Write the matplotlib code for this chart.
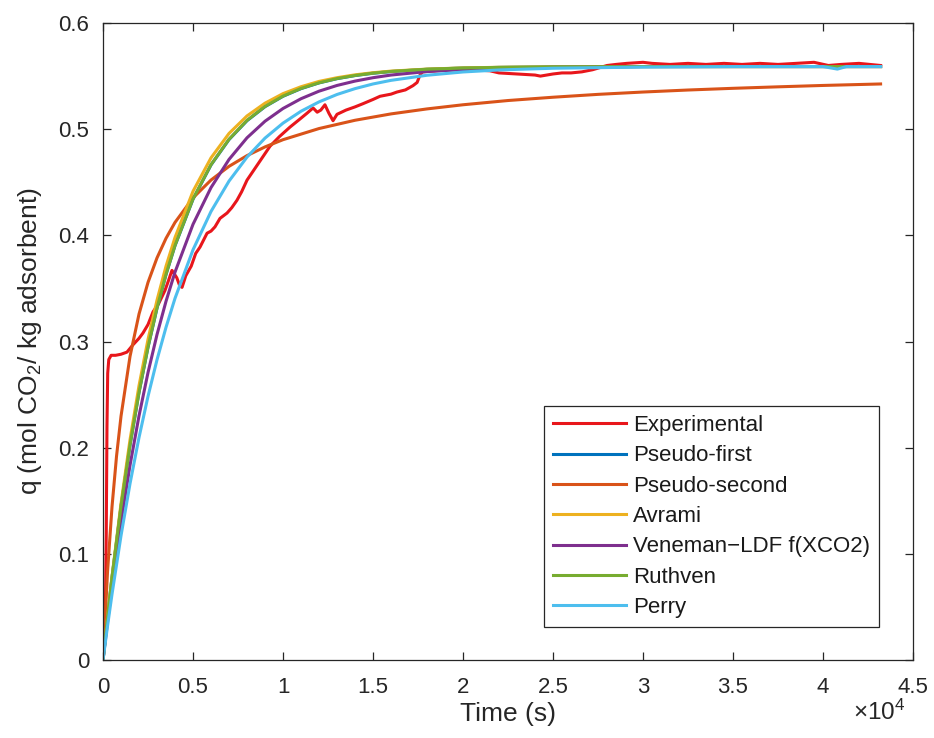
import matplotlib
matplotlib.use("Agg")
import matplotlib.pyplot as plt

plt.rcParams['font.family'] = ['Liberation Sans', 'DejaVu Sans']
plt.rcParams['mathtext.default'] = 'regular'

# ---------------- data ----------------
t_exp = [0, 120, 180, 220, 260, 320, 450, 700, 1000, 1330, 1670, 2000, 2220, 2500,
         2780, 3100, 3440, 3650, 3830, 3950, 4100, 4250, 4390, 4600, 4900, 5150,
         5390, 5600, 5780, 6000, 6220, 6500, 6890, 7150, 7440, 7700, 8000, 8400,
         8800, 9280, 9800, 10390, 10900, 11330, 11670, 11900, 12100, 12330, 12550,
         12780, 13000, 13500, 14000, 14440, 15000, 15390, 16000, 16330, 16800,
         17220, 17450, 17610, 17750, 18500, 19500, 20500, 21500, 22000, 23000,
         24000, 24300, 25000, 25500, 26000, 26600, 27200, 28000, 28500, 29100,
         30000, 30500, 31500, 32500, 33500, 34500, 35500, 36500, 37500, 38500,
         39500, 40300, 41000, 42000, 43200]
q_exp = [0, 0.030, 0.120, 0.220, 0.270, 0.283, 0.287, 0.287, 0.288, 0.290, 0.297,
         0.303, 0.308, 0.316, 0.328, 0.336, 0.348, 0.358, 0.367, 0.364, 0.360,
         0.353, 0.351, 0.362, 0.371, 0.383, 0.389, 0.396, 0.402, 0.404, 0.408,
         0.416, 0.421, 0.426, 0.433, 0.441, 0.452, 0.462, 0.472, 0.484, 0.493,
         0.502, 0.509, 0.515, 0.520, 0.516, 0.518, 0.523, 0.515, 0.508, 0.514,
         0.518, 0.521, 0.524, 0.528, 0.531, 0.533, 0.535, 0.537, 0.541, 0.544,
         0.551, 0.554, 0.555, 0.556, 0.556, 0.555, 0.553, 0.552, 0.551, 0.550,
         0.552, 0.553, 0.553, 0.554, 0.556, 0.560, 0.561, 0.562, 0.563, 0.562,
         0.561, 0.562, 0.561, 0.562, 0.561, 0.562, 0.561, 0.562, 0.563, 0.560,
         0.561, 0.562, 0.560]

t_mod = [0, 250, 500, 1000, 1500, 2000, 2500, 3000, 3500, 4000, 5000, 6000, 7000,
         8000, 9000, 10000, 11000, 12000, 13000, 14000, 15000, 16000, 18000,
         20000, 22000, 25000, 30000, 35000, 40000, 43200]

q_pfo = [0, 0.0403, 0.0778, 0.1447, 0.2024, 0.2520, 0.2946, 0.3314, 0.3631,
         0.3903, 0.4340, 0.4663, 0.4902, 0.5080, 0.5212, 0.5310, 0.5382, 0.5436,
         0.5476, 0.5505, 0.5527, 0.5543, 0.5564, 0.5576, 0.5582, 0.5587, 0.5590,
         0.5590, 0.5590, 0.5590]
q_avrami = [0, 0.0400, 0.0785, 0.1475, 0.2075, 0.2585, 0.3020, 0.3390, 0.3710,
            0.3980, 0.4415, 0.4730, 0.4960, 0.5125, 0.5245, 0.5335, 0.5400,
            0.5450, 0.5485, 0.5512, 0.5532, 0.5547, 0.5566, 0.5577, 0.5583,
            0.5587, 0.5590, 0.5590, 0.5590, 0.5590]
q_veneman = [0, 0.0358, 0.0694, 0.1301, 0.1834, 0.2300, 0.2708, 0.3066, 0.3379,
             0.3654, 0.4104, 0.4450, 0.4715, 0.4919, 0.5075, 0.5195, 0.5287,
             0.5358, 0.5412, 0.5453, 0.5485, 0.5510, 0.5543, 0.5562, 0.5574,
             0.5583, 0.5590, 0.5590, 0.5590, 0.5590]
q_ruthven = [0, 0.0404, 0.0779, 0.1449, 0.2026, 0.2522, 0.2949, 0.3317, 0.3634,
             0.3906, 0.4343, 0.4666, 0.4905, 0.5083, 0.5214, 0.5312, 0.5384,
             0.5437, 0.5477, 0.5506, 0.5528, 0.5544, 0.5565, 0.5576, 0.5582,
             0.5587, 0.5590, 0.5590, 0.5590, 0.5590]

t_perry = [0, 250, 500, 1000, 1500, 2000, 2500, 3000, 3500, 4000, 5000, 6000, 7000,
           8000, 9000, 10000, 11000, 12000, 13000, 14000, 15000, 16000, 18000,
           20000, 22000, 25000, 30000, 35000, 40000, 40800, 41300, 43200]
q_perry = [0, 0.0319, 0.0620, 0.1171, 0.1661, 0.2096, 0.2484, 0.2828, 0.3134,
           0.3407, 0.3864, 0.4225, 0.4511, 0.4737, 0.4916, 0.5057, 0.5169, 0.5257,
           0.5327, 0.5382, 0.5426, 0.5460, 0.5508, 0.5539, 0.5558, 0.5574, 0.5585,
           0.5590, 0.5590, 0.5566, 0.5590, 0.5590]

t_pso = [0, 250, 500, 750, 1000, 1500, 2000, 2500, 3000, 3500, 4000, 5000, 6000,
         7000, 8000, 9000, 10000, 12000, 14000, 16000, 18000, 20000, 22500, 25000,
         27500, 30000, 32500, 35000, 37500, 40000, 43200]
q_pso = [0, 0.0829, 0.1444, 0.1919, 0.2297, 0.2860, 0.3259, 0.3557, 0.3788, 0.3972,
         0.4122, 0.4353, 0.4521, 0.4650, 0.4751, 0.4833, 0.4901, 0.5006, 0.5084,
         0.5144, 0.5191, 0.5230, 0.5270, 0.5301, 0.5328, 0.5350, 0.5369, 0.5385,
         0.5399, 0.5412, 0.5426]

x_ticks = [0, 5000, 10000, 15000, 20000, 25000, 30000, 35000, 40000, 45000]
x_tick_labels = ['0', '0.5', '1', '1.5', '2', '2.5', '3', '3.5', '4', '4.5']
y_ticks = [0, 0.1, 0.2, 0.3, 0.4, 0.5, 0.6]
y_tick_labels = ['0', '0.1', '0.2', '0.3', '0.4', '0.5', '0.6']

# ---------------- figure ----------------
fig = plt.figure(figsize=(9.34, 7.38), dpi=100)
ax = fig.add_axes([0.1103, 0.1057, 0.8672, 0.8631])

lw = 2.2
ax.plot(t_exp, q_exp, color='#E8161B', lw=lw, label='Experimental')
ax.plot(t_mod, q_pfo, color='#0072BD', lw=lw, label='Pseudo-first')
ax.plot(t_pso, q_pso, color='#D95319', lw=lw, label='Pseudo-second')
ax.plot(t_mod, q_avrami, color='#EDB120', lw=lw, label='Avrami')
ax.plot(t_mod, q_veneman, color='#7E2F8E', lw=lw, label='Veneman\u2212LDF f(XCO2)')
ax.plot(t_mod, q_ruthven, color='#77AC30', lw=lw, label='Ruthven')
ax.plot(t_perry, q_perry, color='#4DBEEE', lw=lw, label='Perry')

ax.set_xlim(0, 45000)
ax.set_ylim(0, 0.6)
ax.set_xticks(x_ticks)
ax.set_xticklabels(x_tick_labels)
ax.set_yticks(y_ticks)
ax.set_yticklabels(y_tick_labels)

dark = '#262626'
for s in ax.spines.values():
    s.set_color(dark)
    s.set_linewidth(0.9)
ax.tick_params(direction='in', length=6, width=0.9, colors=dark,
               labelsize=16, top=True, right=True)
ax.tick_params(axis='y', pad=10)
ax.tick_params(axis='x', pad=12)

ax.set_xlabel('Time (s)', fontsize=19, color=dark, labelpad=3)
ax.set_ylabel('q (mol CO$_{2}$/ kg adsorbent)', fontsize=19, color=dark, labelpad=10)

ax.text(0.99, -0.062, r'$\times10^{4}$', transform=ax.transAxes, ha='right', va='top',
        fontsize=17.5, color=dark)

leg = ax.legend(loc='lower right', bbox_to_anchor=(0.958, 0.052), fontsize=16,
                frameon=True, fancybox=False, framealpha=1, edgecolor=dark,
                handlelength=3.3, handletextpad=0.3, labelspacing=0.42,
                borderpad=0.4, borderaxespad=0)
leg.get_frame().set_linewidth(0.9)
for txt in leg.get_texts():
    txt.set_color('#1a1a1a')

fig.savefig('out.png', dpi=100, facecolor='white')
